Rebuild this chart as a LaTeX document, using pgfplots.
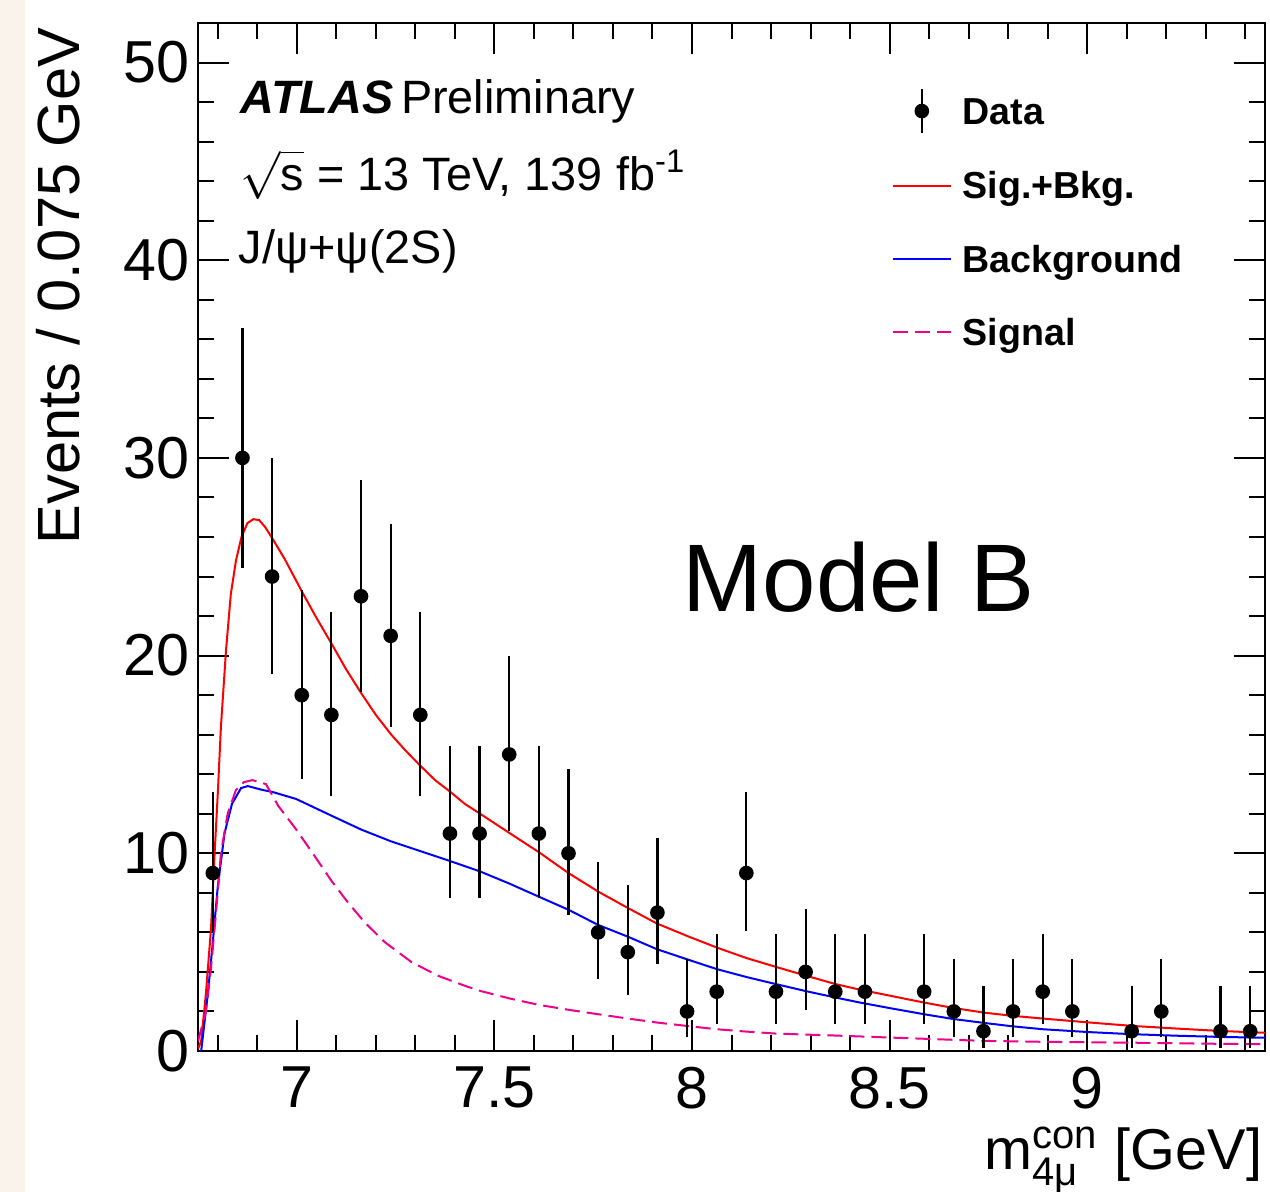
\documentclass[border=0pt]{standalone}
\usepackage{amsmath}
\usepackage{fontspec}
\setmainfont{Liberation Sans}
\usepackage{pgfplots}
\usepackage{pgfplotstable}
\pgfplotsset{compat=1.18}
\definecolor{beige}{RGB}{250,243,235}

\pgfplotstableread{
x y ep em
6.7875 9 4.11 2.94
6.8625 30 6.59 5.58
6.9375 24 6.00 4.94
7.0125 18 5.34 4.24
7.0875 17 5.22 4.12
7.1625 23 5.90 4.83
7.2375 21 5.68 4.60
7.3125 17 5.22 4.12
7.3875 11 4.42 3.27
7.4625 11 4.42 3.27
7.5375 15 4.97 3.85
7.6125 11 4.42 3.27
7.6875 10 4.27 3.11
7.7625 6 3.58 2.38
7.8375 5 3.38 2.16
7.9125 7 3.77 2.58
7.9875 2 2.64 1.29
8.0625 3 2.92 1.63
8.1375 9 4.11 2.94
8.2125 3 2.92 1.63
8.2875 4 3.16 1.91
8.3625 3 2.92 1.63
8.4375 3 2.92 1.63
8.5875 3 2.92 1.63
8.6625 2 2.64 1.29
8.7375 1 2.30 0.83
8.8125 2 2.64 1.29
8.8875 3 2.92 1.63
8.9625 2 2.64 1.29
9.1125 1 2.30 0.83
9.1875 2 2.64 1.29
9.3375 1 2.30 0.83
9.4125 1 2.30 0.83
}\datatab

\begin{document}
\begin{tikzpicture}
\begin{axis}[
  scale only axis, width=266.75pt, height=257pt,
  xmin=6.75, xmax=9.45, ymin=0, ymax=52,
  xtick={7,7.5,8,8.5,9}, ytick={0,10,20,30,40,50},
  minor xtick={6.8,6.9,7.1,7.2,7.3,7.4,7.6,7.7,7.8,7.9,8.1,8.2,8.3,8.4,8.6,8.7,8.8,8.9,9.1,9.2,9.3,9.4},
  minor ytick={2,4,6,8,12,14,16,18,22,24,26,28,32,34,36,38,42,44,46,48},
  tick align=inside,
  major tick length=7.75pt, minor tick length=3.9pt,
  axis line style={line width=0.55pt},
  tick style={black, line width=0.5pt},
  tick label style={font=\fontsize{14.8}{16}\selectfont, inner sep=0pt},
  /pgf/number format/assume math mode=true,
  xticklabel style={yshift=-3.75pt},
  yticklabel style={xshift=-2pt},
  xlabel={m$^{\text{con}}_{\text{4μ}}$ [GeV]},
  xlabel style={at={(axis description cs:0.9981,-0.1148)}, anchor=base east, inner sep=0pt, font=\fontsize{14.4}{16}\selectfont},
  ylabel={Events / 0.075 GeV},
  ylabel style={at={(axis description cs:-0.1115,0.9962)}, anchor=base east, inner sep=0pt, font=\fontsize{14.9}{16}\selectfont},
  legend style={at={(axis description cs:0.6495,0.9372)}, anchor=north west, draw=none, fill=none, inner sep=0pt, row sep=9.3pt, column sep=2.75pt, font=\fontsize{9.4}{11}\selectfont\bfseries, nodes={inner sep=0pt, text height=7pt, text depth=2pt}},
  legend cell align=left,
]
\coordinate (SW) at (rel axis cs:0,0);
\coordinate (NE) at (rel axis cs:1,1);
\coordinate (NW) at (rel axis cs:0,1);

\addlegendimage{legend image code/.code={\draw[line width=0.55pt] (7.25pt,-4.45pt) -- (7.25pt,6.35pt); \fill (7.25pt,0.95pt) circle (1.63pt);}}
\addlegendentry{Data}

\addplot[red, line width=0.5pt, legend image code/.code={\draw[red, line width=0.5pt] (0pt,0.75pt) -- (14.5pt,0.75pt);}] coordinates {
(6.750,0.1)(6.758,0.5)(6.770,2.9)(6.783,6.2)(6.791,9.6)(6.800,13.0)(6.808,16.4)(6.821,20.3)(6.833,23.1)(6.846,24.8)(6.860,26.0)(6.875,26.7)(6.890,26.9)(6.905,26.85)(6.920,26.5)(6.939,25.9)(6.969,24.9)(7.014,23.2)(7.050,21.9)(7.088,20.6)(7.125,19.3)(7.163,18.1)(7.200,17.0)(7.239,16.0)(7.275,15.2)(7.314,14.4)(7.350,13.7)(7.389,13.1)(7.425,12.5)(7.464,12.0)(7.540,11.0)(7.613,10.05)(7.689,8.98)(7.762,8.07)(7.838,7.23)(7.911,6.45)(7.990,5.8)(8.063,5.23)(8.138,4.7)(8.213,4.25)(8.290,3.8)(8.364,3.38)(8.425,3.1)(8.50,2.8)(8.587,2.45)(8.660,2.18)(8.739,1.94)(8.810,1.78)(8.888,1.64)(9.000,1.45)(9.113,1.27)(9.230,1.13)(9.339,1.01)(9.450,0.92)
};
\addlegendentry{Sig.+Bkg.}

\addplot[blue, line width=0.5pt, legend image code/.code={\draw[blue, line width=0.5pt] (0pt,0.75pt) -- (14.5pt,0.75pt);}] coordinates {
(6.758,0)(6.775,2.9)(6.787,5.4)(6.800,8.3)(6.817,11.0)(6.836,12.5)(6.859,13.3)(6.876,13.4)(6.914,13.2)(6.939,13.1)(6.998,12.75)(7.014,12.6)(7.088,11.9)(7.163,11.2)(7.239,10.6)(7.314,10.1)(7.389,9.6)(7.464,9.08)(7.540,8.45)(7.613,7.8)(7.689,7.13)(7.762,6.38)(7.838,5.78)(7.911,5.15)(7.990,4.62)(8.063,4.14)(8.138,3.74)(8.213,3.38)(8.290,3.02)(8.364,2.7)(8.425,2.45)(8.50,2.17)(8.587,1.86)(8.660,1.62)(8.739,1.42)(8.810,1.25)(8.888,1.1)(9.000,0.96)(9.113,0.85)(9.230,0.77)(9.339,0.71)(9.450,0.67)
};
\addlegendentry{Background}

\addplot[magenta, line width=0.5pt, dash pattern=on 3.75pt off 1.75pt, legend image code/.code={\draw[magenta, line width=0.5pt, dash pattern=on 3.75pt off 1.75pt] (0pt,0.75pt) -- (14.5pt,0.75pt);}] coordinates {
(6.750,0.5)(6.770,2.0)(6.783,4.2)(6.796,7.1)(6.808,10.0)(6.825,12.0)(6.846,13.2)(6.866,13.6)(6.888,13.7)(6.922,13.5)(6.953,12.4)(6.995,11.3)(7.037,10.1)(7.088,8.6)(7.130,7.5)(7.172,6.5)(7.223,5.5)(7.290,4.5)(7.358,3.8)(7.425,3.3)(7.464,3.04)(7.54,2.65)(7.613,2.33)(7.689,2.08)(7.762,1.86)(7.838,1.64)(7.911,1.44)(7.990,1.26)(8.063,1.1)(8.138,0.98)(8.213,0.88)(8.364,0.78)(8.50,0.68)(8.739,0.51)(8.90,0.46)(9.113,0.42)(9.30,0.37)(9.450,0.34)
};
\addlegendentry{Signal}

\addplot[black, only marks, mark=*, mark size=1.63pt, forget plot,
  error bars/.cd, y dir=both, y explicit, error mark=none, error bar style={line width=0.55pt}]
  table[x=x, y=y, y error plus=ep, y error minus=em] {\datatab};

\node[anchor=base west, inner sep=0pt, font=\fontsize{11.7}{13}\selectfont] at (axis description cs:0.0394,0.9115) {\textbf{\textit{ATLAS}}\,Preliminary};
\node[anchor=base west, inner sep=0pt, font=\fontsize{11.7}{13}\selectfont] at (axis description cs:0.0394,0.8375) {$\sqrt{\text{s}}$ = 13 TeV, 139 fb\textsuperscript{-1}};
\node[anchor=base west, inner sep=0pt, font=\fontsize{11.7}{13}\selectfont] at (axis description cs:0.0375,0.7656) {J/ψ+ψ(2S)};
\node[anchor=base west, inner sep=0pt, font=\fontsize{24}{26}\selectfont] at (axis description cs:0.4536,0.428) {Model B};
\end{axis}
\fill[beige] ([xshift=-49.5pt,yshift=-35.25pt]SW) rectangle ([xshift=-43.25pt,yshift=5.75pt]NW);
\pgfresetboundingbox
\path ([xshift=-49.5pt,yshift=-35.25pt]SW) rectangle ([xshift=1.25pt,yshift=5.75pt]NE);
\end{tikzpicture}
\end{document}
